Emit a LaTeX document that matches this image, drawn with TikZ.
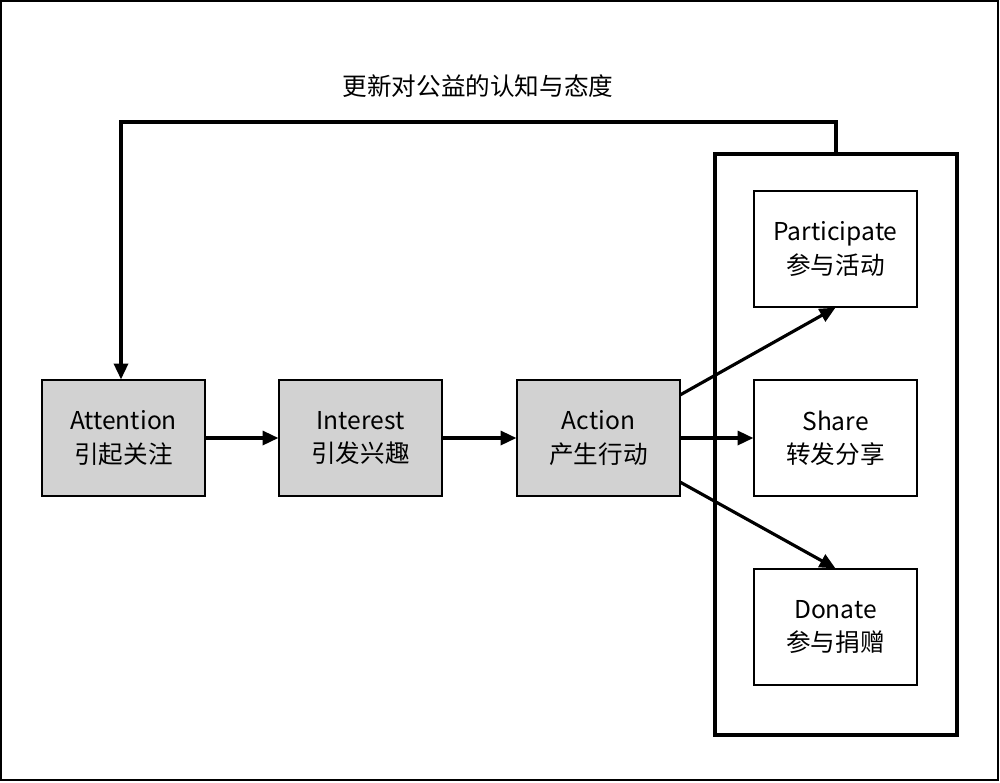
\documentclass[tikz,border=0pt]{standalone}
\usepackage{fontspec}
\setmainfont{Noto Sans CJK SC}
\usetikzlibrary{arrows.meta}
\begin{document}
\begin{tikzpicture}[x=0.02cm,y=-0.02cm,
  box/.style={draw,line width=0.7pt,minimum width=163*0.02cm,minimum height=116*0.02cm,align=center,font=\fontsize{14}{19}\selectfont,inner sep=0pt},
  gbox/.style={box,fill=gray!35},
  arr/.style={line width=1.8pt,-{Triangle[length=9pt,width=8pt]}}]
\useasboundingbox (0,0) rectangle (1000,782);
\draw[line width=0.8pt] (1,1) rectangle (998,780);
\node[gbox] (att) at (123.5,438) {Attention\\引起关注};
\node[gbox] (int) at (360.5,438) {Interest\\引发兴趣};
\node[gbox] (act) at (598.5,438) {Action\\产生行动};
\node[box] (par) at (835.5,249) {Participate\\参与活动};
\node[box] (sha) at (835.5,438) {Share\\转发分享};
\node[box] (don) at (835.5,627) {Donate\\参与捐赠};
\node[draw,line width=1.8pt,minimum width=242*0.02cm,minimum height=581*0.02cm,inner sep=0pt] (grp) at (836,444.5) {};
\node[font=\fontsize{14}{17}\selectfont] (lbl) at (478,86) {更新对公益的认知与态度};
\coordinate (c1) at (836,122);
\coordinate (c2) at (121,122);
\draw[arr] (grp.north) -- (c1) -- (c2) -- (att.north -| c2);
\draw[arr] (att) -- (int);
\draw[arr] (int) -- (act);
\draw[arr] (act.east) -- (sha.west);
\draw[arr] (680,395) -- (par.south);
\draw[arr] (680,482) -- (don.north);
\end{tikzpicture}
\end{document}
